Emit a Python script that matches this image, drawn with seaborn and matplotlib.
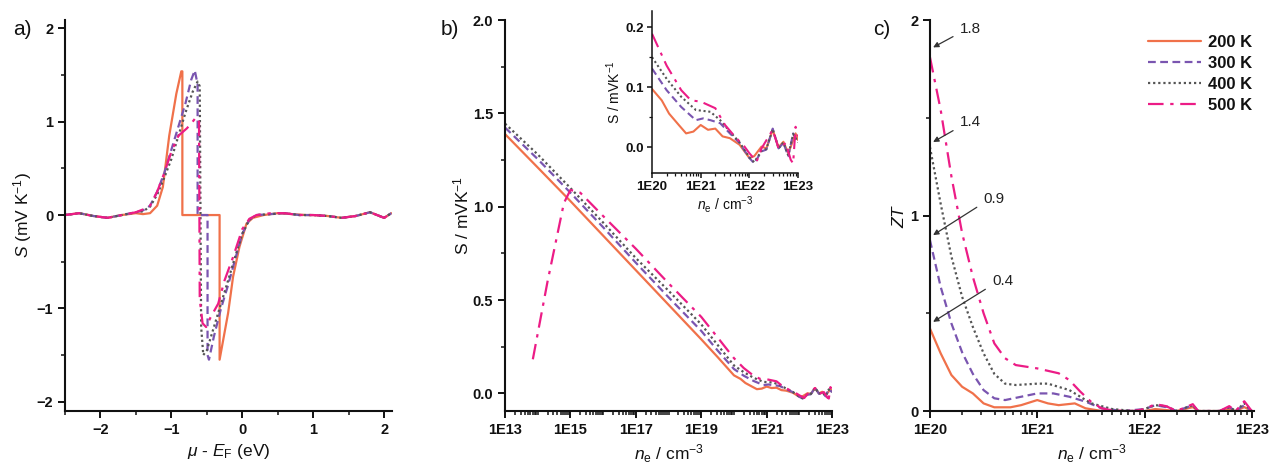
import numpy as np
import pandas as pd
import matplotlib
matplotlib.use('Agg')
import matplotlib.pyplot as plt
import seaborn as sns
from matplotlib.ticker import MultipleLocator, LogLocator, NullFormatter, FuncFormatter, FixedLocator

sns.set_theme(style='ticks')
plt.rcParams['font.family'] = ['Liberation Sans', 'DejaVu Sans']
plt.rcParams['mathtext.fontset'] = 'custom'
plt.rcParams['mathtext.rm'] = 'Liberation Sans'
plt.rcParams['mathtext.it'] = 'Liberation Sans:italic'
plt.rcParams['axes.unicode_minus'] = True
plt.rcParams['text.color'] = '#111111'
plt.rcParams['axes.labelcolor'] = '#111111'
plt.rcParams['xtick.color'] = '#111111'
plt.rcParams['ytick.color'] = '#111111'

TEMPS = ['200 K', '300 K', '400 K', '500 K']
COLORS = ['#F0714A', '#7A55B0', '#555555', '#EC1C86']
DASHES = ['-', (0, (3.5, 2)), (0, (1, 1.3)), (0, (7, 3, 1.5, 3))]

# --- a) S vs mu - E_F ---
a_200_x = [-2.5, -2.3, -2.1, -1.9, -1.7, -1.5, -1.4, -1.3, -1.2, -1.12, -1.03, -0.93, -0.86, -0.845,
           -0.845, -0.32, -0.32, -0.2, -0.13, -0.04, 0.06, 0.15, 0.3, 0.5, 0.7, 0.9, 1.0, 1.2, 1.4, 1.6, 1.8, 2.0, 2.1]
a_200_y = [0.0, 0.02, -0.01, -0.03, 0.0, 0.02, 0.01, 0.02, 0.1, 0.3, 0.85, 1.3, 1.54, 1.54,
           0.0, 0.0, -1.55, -1.05, -0.66, -0.34, -0.09, -0.03, 0.0, 0.02, 0.01, 0.0, 0.0, -0.01, -0.03, -0.01, 0.03, -0.03, 0.02]
a_300_x = [-2.5, -2.3, -2.1, -1.9, -1.7, -1.5, -1.4, -1.3, -1.2, -1.1, -1.0, -0.9, -0.8, -0.72, -0.67, -0.63,
           -0.63, -0.49, -0.49, -0.47, -0.4, -0.3, -0.2, -0.11, 0.0, 0.1, 0.2, 0.4, 0.6, 0.8, 1.0, 1.2, 1.4, 1.6, 1.8, 2.0, 2.1]
a_300_y = [0.0, 0.02, -0.01, -0.03, 0.0, 0.03, 0.05, 0.1, 0.25, 0.45, 0.7, 0.95, 1.2, 1.45, 1.55, 1.4,
           0.0, 0.0, -1.5, -1.55, -1.3, -1.0, -0.75, -0.5, -0.2, -0.05, 0.0, 0.01, 0.02, 0.0, 0.0, -0.01, -0.03, -0.01, 0.03, -0.03, 0.02]
a_400_x = [-2.5, -2.3, -2.1, -1.9, -1.7, -1.5, -1.4, -1.3, -1.2, -1.1, -1.0, -0.9, -0.8, -0.7, -0.63, -0.6,
           -0.58, -0.55, -0.5, -0.4, -0.3, -0.2, -0.13, 0.0, 0.1, 0.2, 0.4, 0.6, 0.8, 1.0, 1.2, 1.4, 1.6, 1.8, 2.0, 2.1]
a_400_y = [0.0, 0.02, -0.01, -0.03, 0.0, 0.03, 0.04, 0.09, 0.22, 0.4, 0.6, 0.85, 1.1, 1.32, 1.43, 1.38,
           -1.2, -1.5, -1.45, -1.2, -0.95, -0.7, -0.52, -0.2, -0.05, 0.0, 0.01, 0.02, 0.0, 0.0, -0.01, -0.03, -0.01, 0.03, -0.03, 0.02]
a_500_x = [-2.5, -2.3, -2.1, -1.9, -1.7, -1.5, -1.4, -1.3, -1.2, -1.1, -1.0, -0.9, -0.78, -0.7, -0.65, -0.61,
           -0.6, -0.56, -0.51, -0.45, -0.34, -0.25, -0.13, 0.0, 0.1, 0.2, 0.4, 0.6, 0.8, 1.0, 1.2, 1.4, 1.6, 1.8, 2.0, 2.1]
a_500_y = [0.0, 0.02, -0.01, -0.03, 0.0, 0.03, 0.06, 0.1, 0.25, 0.45, 0.68, 0.85, 0.93, 1.0, 1.05, 1.0,
           -0.9, -1.16, -1.2, -1.1, -0.95, -0.7, -0.45, -0.15, -0.04, 0.0, 0.02, 0.02, 0.0, 0.0, -0.01, -0.03, -0.01, 0.03, -0.03, 0.02]

# --- b) S vs n_e (log10 of n_e) ---
b_200_lg = [13, 14, 15, 16, 17, 18, 19, 19.5, 20, 20.2, 20.35, 20.55, 20.7, 20.85, 21.0, 21.15, 21.3, 21.45, 21.6, 21.8,
            22.0, 22.1, 22.25, 22.35, 22.48, 22.6, 22.7, 22.8, 22.88, 22.95, 23.0]
b_200_y = [1.389, 1.21, 1.03, 0.845, 0.66, 0.475, 0.29, 0.195, 0.097, 0.078, 0.056, 0.037, 0.023, 0.026, 0.037, 0.029, 0.031,
           0.018, 0.015, 0.004, -0.018, -0.015, 0.001, -0.002, 0.029, 0.0, 0.009, -0.01, 0.007, 0.023, 0.012]
b_300_lg = [13, 14, 15, 16, 17, 18, 19, 19.5, 20, 20.3, 20.6, 20.9, 21.05, 21.2, 21.4, 21.6, 21.8,
            22.0, 22.1, 22.25, 22.35, 22.48, 22.6, 22.7, 22.8, 22.9, 23.0]
b_300_y = [1.424, 1.255, 1.075, 0.89, 0.70, 0.515, 0.335, 0.23, 0.131, 0.095, 0.067, 0.045, 0.048, 0.045, 0.04, 0.023, 0.007,
           -0.018, -0.027, -0.007, -0.004, 0.031, -0.002, 0.007, -0.015, 0.023, 0.007]
b_400_lg = [13, 14, 15, 16, 17, 18, 19, 19.5, 20, 20.3, 20.6, 20.9, 21.2, 21.4, 21.6, 21.8,
            22.0, 22.1, 22.25, 22.35, 22.48, 22.6, 22.7, 22.8, 22.9, 23.0]
b_400_y = [1.445, 1.28, 1.10, 0.915, 0.725, 0.55, 0.37, 0.26, 0.15, 0.114, 0.084, 0.062, 0.059, 0.045, 0.026, 0.008,
           -0.017, -0.025, -0.006, -0.003, 0.03, -0.002, 0.008, -0.014, 0.022, 0.008]
b_500_lg = [13.85, 14.3, 14.8, 15.0, 15.3, 16, 17, 18, 19, 19.5, 20, 20.3, 20.6, 20.8, 21.0, 21.3, 21.5, 21.7, 21.9,
            22.0, 22.15, 22.25, 22.48, 22.6, 22.75, 22.85, 22.9, 22.95, 23.0]
b_500_y = [0.183, 0.6, 1.02, 1.09, 1.075, 0.95, 0.775, 0.59, 0.41, 0.30, 0.189, 0.136, 0.095, 0.078, 0.076, 0.065, 0.037, 0.018,
           0.001, -0.01, -0.024, -0.002, 0.029, -0.002, 0.007, -0.021, -0.027, 0.034, 0.018]
b_major = [13, 15, 17, 19, 21, 23]

# --- c) ZT vs n_e (log10 of n_e) ---
c_200_lg = [20, 20.1, 20.2, 20.3, 20.4, 20.5, 20.6, 20.75, 20.85, 21.0, 21.1, 21.2, 21.35, 21.45, 21.6, 21.8, 22.0, 22.1, 22.2,
            22.3, 22.45, 22.5, 22.7, 22.79, 22.85, 22.93, 23.0]
c_200_y = [0.422, 0.295, 0.184, 0.124, 0.09, 0.039, 0.019, 0.019, 0.03, 0.056, 0.039, 0.03, 0.039, 0.014, 0.0, 0.0, 0.0, 0.01, 0.005,
           0.0, 0.02, 0.0, 0.0, 0.01, 0.0, 0.02, 0.0]
c_300_lg = [20, 20.1, 20.2, 20.3, 20.4, 20.5, 20.6, 20.7, 20.85, 21.0, 21.15, 21.3, 21.45, 21.6, 21.8, 22.0, 22.1, 22.2,
            22.3, 22.45, 22.5, 22.7, 22.79, 22.85, 22.93, 23.0]
c_300_y = [0.874, 0.635, 0.448, 0.30, 0.19, 0.107, 0.065, 0.056, 0.073, 0.09, 0.09, 0.073, 0.048, 0.014, 0.0, 0.01, 0.03, 0.02,
           0.0, 0.03, 0.0, 0.0, 0.02, 0.0, 0.03, 0.0]
c_400_lg = [20, 20.1, 20.2, 20.3, 20.4, 20.5, 20.6, 20.7, 20.8, 21.0, 21.1, 21.3, 21.5, 21.7, 21.9, 22.0, 22.1, 22.2,
            22.3, 22.45, 22.5, 22.7, 22.79, 22.85, 22.93, 23.0]
c_400_y = [1.35, 1.06, 0.79, 0.584, 0.43, 0.295, 0.19, 0.14, 0.133, 0.14, 0.14, 0.107, 0.04, 0.01, 0.0, 0.01, 0.03, 0.025,
           0.0, 0.03, 0.0, 0.0, 0.02, 0.0, 0.04, 0.0]
c_500_lg = [20, 20.1, 20.2, 20.3, 20.4, 20.5, 20.6, 20.7, 20.8, 21.0, 21.2, 21.3, 21.4, 21.5, 21.6, 21.7, 21.9, 22.0, 22.1, 22.2,
            22.3, 22.45, 22.5, 22.7, 22.79, 22.85, 22.93, 23.0]
c_500_y = [1.81, 1.54, 1.20, 0.91, 0.686, 0.5, 0.346, 0.27, 0.235, 0.218, 0.193, 0.158, 0.1, 0.048, 0.014, 0.003, 0.0, 0.01, 0.035, 0.025,
           0.0, 0.035, 0.0, 0.0, 0.025, 0.0, 0.05, 0.0]

zt_marks = [1.8, 1.4, 0.9, 0.4]
zt_tips = [1.86, 1.376, 0.90, 0.456]

a_series = [(a_200_x, a_200_y), (a_300_x, a_300_y), (a_400_x, a_400_y), (a_500_x, a_500_y)]
b_series = [(b_200_lg, b_200_y), (b_300_lg, b_300_y), (b_400_lg, b_400_y), (b_500_lg, b_500_y)]
c_series = [(c_200_lg, c_200_y), (c_300_lg, c_300_y), (c_400_lg, c_400_y), (c_500_lg, c_500_y)]


def draw(ax, series, log=False, lw=1.6, labels=True):
    for (xs, ys), t, col, ls in zip(series, TEMPS, COLORS, DASHES):
        x = np.power(10.0, xs) if log else np.asarray(xs)
        df = pd.DataFrame({'x': x, 'y': ys})
        sns.lineplot(data=df, x='x', y='y', ax=ax, color=col, linestyle=ls, lw=lw,
                     estimator=None, sort=False, label=t if labels else None, legend=False)


def style(ax, size=10.5):
    for s in ['top', 'right']:
        ax.spines[s].set_visible(False)
    for s in ['left', 'bottom']:
        ax.spines[s].set_linewidth(1.5)
        ax.spines[s].set_color('#111111')
    ax.tick_params(which='major', direction='out', length=5, width=1.4, labelsize=size, color='#111111')
    ax.tick_params(which='minor', direction='out', length=3, width=1.1, color='#111111')
    for lab in ax.get_xticklabels() + ax.get_yticklabels():
        lab.set_fontweight('bold')


def sci(v, pos):
    return '1E%d' % round(np.log10(v))


fig = plt.figure(figsize=(12.76, 4.72), dpi=100)
ax_a = fig.add_axes([0.0509, 0.1292, 0.2563, 0.8284])
ax_b = fig.add_axes([0.3958, 0.1292, 0.2563, 0.8284])
ax_c = fig.add_axes([0.7288, 0.1292, 0.2540, 0.8284])
ax_i = fig.add_axes([0.5110, 0.6335, 0.1144, 0.3432])

# a)
draw(ax_a, a_series)
ax_a.set_xlim(-2.5, 2.11)
ax_a.set_ylim(-2.1, 2.09)
ax_a.xaxis.set_major_locator(MultipleLocator(1))
ax_a.xaxis.set_minor_locator(MultipleLocator(0.5))
ax_a.yaxis.set_major_locator(MultipleLocator(1))
ax_a.yaxis.set_minor_locator(MultipleLocator(0.5))
ax_a.set_xlabel(r'$\mu$ - $E_{\rm F}$ (eV)', fontsize=12.5, labelpad=4)
ax_a.set_ylabel(r'$S$ (mV K$^{-1}$)', fontsize=12.5, labelpad=2)
style(ax_a)

# b)
draw(ax_b, b_series, log=True)
ax_b.set_xscale('log')
ax_b.set_xlim(1e13, 1e23)
ax_b.set_ylim(-0.094, 2.0)
ax_b.xaxis.set_major_locator(FixedLocator(np.power(10.0, b_major)))
ax_b.xaxis.set_major_formatter(FuncFormatter(sci))
ax_b.xaxis.set_minor_locator(LogLocator(base=10, subs=np.arange(1, 10) * 1.0, numticks=100))
ax_b.xaxis.set_minor_formatter(NullFormatter())
ax_b.yaxis.set_major_locator(MultipleLocator(0.5))
ax_b.yaxis.set_minor_locator(MultipleLocator(0.25))
ax_b.yaxis.set_major_formatter(FuncFormatter(lambda v, p: '%.1f' % v))
ax_b.set_xlabel(r'$n_{\rm e}$ / cm$^{-3}$', fontsize=12.5, labelpad=4)
ax_b.set_ylabel(r'S / mVK$^{-1}$', fontsize=12.5, labelpad=1)
style(ax_b)

# inset
draw(ax_i, [(s[0][i0:], s[1][i0:]) for s, i0 in zip(b_series, [8, 8, 8, 10])], log=True, lw=1.5, labels=False)
ax_i.set_xscale('log')
ax_i.set_xlim(1e20, 1e23)
ax_i.set_ylim(-0.043, 0.227)
ax_i.xaxis.set_major_locator(LogLocator(base=10, numticks=10))
ax_i.xaxis.set_major_formatter(FuncFormatter(sci))
ax_i.xaxis.set_minor_locator(LogLocator(base=10, subs=np.arange(2, 10) * 1.0, numticks=100))
ax_i.xaxis.set_minor_formatter(NullFormatter())
ax_i.yaxis.set_major_locator(MultipleLocator(0.1))
ax_i.yaxis.set_minor_locator(MultipleLocator(0.05))
ax_i.yaxis.set_major_formatter(FuncFormatter(lambda v, p: '%.1f' % v))
ax_i.set_xlabel(r'$n_{\rm e}$ / cm$^{-3}$', fontsize=10, labelpad=1)
ax_i.set_ylabel(r'S / mVK$^{-1}$', fontsize=10, labelpad=2)
ax_i.patch.set_alpha(0)
style(ax_i, size=9.5)
for s in ['left', 'bottom']:
    ax_i.spines[s].set_linewidth(1.1)
ax_i.tick_params(which='major', length=3.5, width=1.1, pad=2)
ax_i.tick_params(which='minor', length=2, width=0.9)

# c)
draw(ax_c, c_series, log=True)
ax_c.set_xscale('log')
ax_c.set_xlim(1e20, 1.05e23)
ax_c.set_ylim(0, 2.0)
ax_c.xaxis.set_major_locator(LogLocator(base=10, numticks=10))
ax_c.xaxis.set_major_formatter(FuncFormatter(sci))
ax_c.xaxis.set_minor_locator(LogLocator(base=10, subs=np.arange(2, 10) * 1.0, numticks=100))
ax_c.xaxis.set_minor_formatter(NullFormatter())
ax_c.yaxis.set_major_locator(MultipleLocator(1))
ax_c.yaxis.set_minor_locator(MultipleLocator(0.5))
ax_c.set_xlabel(r'$n_{\rm e}$ / cm$^{-3}$', fontsize=12.5, labelpad=4)
ax_c.set_ylabel(r'$ZT$', fontsize=12.5, labelpad=2)
style(ax_c)

text_pos = [(10**20.28, 1.92), (10**20.28, 1.44), (10**20.5, 1.05), (10**20.58, 0.63)]
for m, tip, tp in zip(zt_marks, zt_tips, text_pos):
    ax_c.annotate('%.1f' % m, xy=(1.07e20, tip), xytext=tp, fontsize=11, color='#222222',
                  ha='left', va='bottom',
                  arrowprops=dict(arrowstyle='-|>', color='#333333', lw=0.9, mutation_scale=8,
                                  relpos=(0.0, 0.2), shrinkA=3, shrinkB=0))

leg = ax_c.legend(loc='upper right', bbox_to_anchor=(1.04, 1.0), frameon=False,
                  handlelength=3.2, handletextpad=0.4, labelspacing=0.35,
                  prop={'weight': 'bold', 'size': 12, 'family': 'Liberation Sans'})

fig.text(0.010, 0.925, 'a)', fontsize=15)
fig.text(0.345, 0.925, 'b)', fontsize=15)
fig.text(0.684, 0.925, 'c)', fontsize=15)

fig.savefig('out.png', dpi=100)
